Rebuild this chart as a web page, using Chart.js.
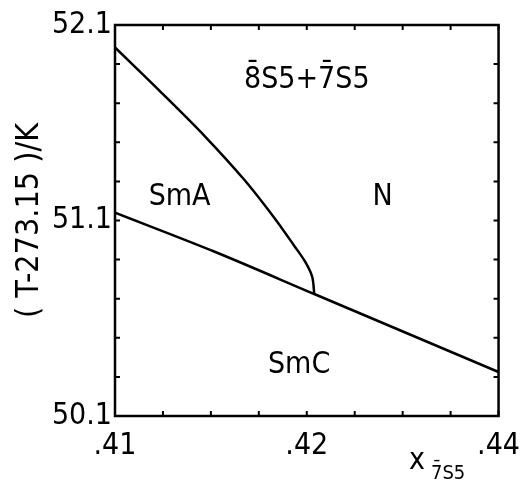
<!DOCTYPE html>
<html>
<head>
<meta charset="utf-8">
<script src="https://cdn.jsdelivr.net/npm/chart.js@4"></script>
<style>
  html, body { margin: 0; padding: 0; background: #fff; }
  #phase-chart { display: block; }
</style>
</head>
<body>
<canvas id="phase-chart" width="524" height="481"></canvas>
<script>
// Phase boundaries, mole fraction vs. temperature (deg C)
const smaNX = [0.41, 0.412338, 0.414675, 0.416753, 0.418312, 0.419351, 0.419922, 0.420286, 0.42039];
const smaNY = [51.985, 51.762, 51.532, 51.307, 51.113, 50.97, 50.888, 50.811, 50.724];

const smcX = [0.41, 0.4152, 0.42039, 0.43];
const smcY = [51.14, 50.94, 50.724, 50.325];

// Axis tick labels (blank = unlabeled tick)
const xTickLabels = ['.41', '', '', '', '.42', '', '', '', '.44'];
const yTickLabels = ['50.1', '', '', '', '', '51.1', '', '', '', '', '52.1'];

// Phase region labels
const regionLabels = ['SmA', 'N', 'SmC'];
const regionX = [0.41337, 0.42395, 0.4196];
const regionY = [51.22, 51.22, 50.36];

const FONT = "'DejaVu Sans Condensed', 'Liberation Sans Narrow', 'DejaVu Sans', sans-serif";

function toPoints(xs, ys) {
    return xs.map((x, i) => ({ x: x, y: ys[i] }));
}

// Frame, inward tick marks and free text
const framePlugin = {
    id: 'frame',
    afterDraw(chart) {
        const ctx = chart.ctx;
        const area = chart.chartArea;
        const xs = chart.scales.x;
        const ys = chart.scales.y;
        const tick = 5;

        ctx.save();
        ctx.strokeStyle = '#000';
        ctx.lineWidth = 2.5;
        ctx.strokeRect(area.left, area.top, area.right - area.left, area.bottom - area.top);

        ctx.lineWidth = 2;
        ctx.beginPath();
        xs.ticks.forEach(t => {
            const px = xs.getPixelForValue(t.value);
            ctx.moveTo(px, area.bottom);
            ctx.lineTo(px, area.bottom - tick);
            ctx.moveTo(px, area.top);
            ctx.lineTo(px, area.top + tick);
        });
        ys.ticks.forEach(t => {
            const py = ys.getPixelForValue(t.value);
            ctx.moveTo(area.left, py);
            ctx.lineTo(area.left + tick, py);
            ctx.moveTo(area.right, py);
            ctx.lineTo(area.right - tick, py);
        });
        ctx.stroke();

        // region names
        ctx.fillStyle = '#000';
        ctx.textAlign = 'center';
        ctx.textBaseline = 'middle';
        ctx.font = '30px ' + FONT;
        regionLabels.forEach((label, i) => {
            ctx.fillText(label, xs.getPixelForValue(regionX[i]), ys.getPixelForValue(regionY[i]));
        });

        // mixture name
        ctx.fillText('8\u0304S5+7\u0304S5', (area.left + area.right) / 2, area.top + 55);

        // x axis title with subscript
        ctx.textAlign = 'left';
        ctx.textBaseline = 'alphabetic';
        ctx.font = '30px ' + FONT;
        ctx.fillText('x', 409, 469);
        ctx.font = '20px ' + FONT;
        ctx.fillText('7\u0304S5', 431, 479);
        ctx.restore();
    }
};

new Chart(document.getElementById('phase-chart'), {
    type: 'scatter',
    data: {
        datasets: [
            {
                label: 'SmA-N',
                data: toPoints(smaNX, smaNY),
                showLine: true,
                borderColor: '#000',
                borderWidth: 2.5,
                pointRadius: 0,
                tension: 0.3
            },
            {
                label: 'SmC',
                data: toPoints(smcX, smcY),
                showLine: true,
                borderColor: '#000',
                borderWidth: 2.5,
                pointRadius: 0,
                tension: 0.3
            }
        ]
    },
    options: {
        responsive: false,
        devicePixelRatio: 1,
        animation: false,
        layout: { padding: { top: 25, right: 24, left: 0, bottom: 0 } },
        plugins: {
            legend: { display: false },
            tooltip: { enabled: false }
        },
        scales: {
            x: {
                type: 'linear',
                min: 0.41,
                max: 0.43,
                grid: { display: false },
                border: { display: false },
                ticks: {
                    stepSize: 0.0025,
                    autoSkip: false,
                    maxRotation: 0,
                    padding: 4,
                    color: '#000',
                    font: { family: FONT, size: 30 },
                    callback: (value, index) => xTickLabels[index]
                },
                afterFit: scale => { scale.height = 65; }
            },
            y: {
                type: 'linear',
                min: 50.1,
                max: 52.1,
                grid: { display: false },
                border: { display: false },
                ticks: {
                    stepSize: 0.2,
                    autoSkip: false,
                    padding: -5,
                    color: '#000',
                    font: { family: FONT, size: 30 },
                    callback: (value, index) => yTickLabels[index]
                },
                title: {
                    display: true,
                    text: '( T-273.15 )/K',
                    color: '#000',
                    font: { family: FONT, size: 32 },
                    padding: { top: 10, bottom: 0 }
                },
                afterFit: scale => { scale.width = 115; }
            }
        }
    },
    plugins: [framePlugin]
});
</script>
</body>
</html>
